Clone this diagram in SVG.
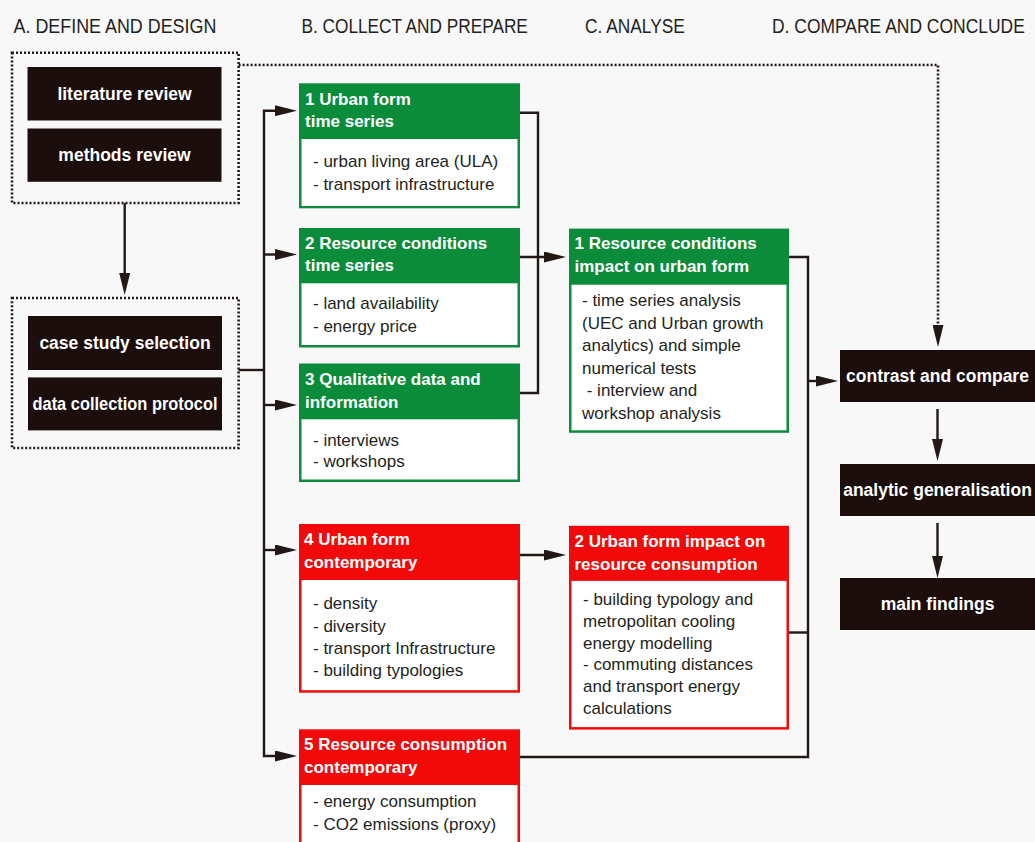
<svg xmlns="http://www.w3.org/2000/svg" width="1035" height="842" viewBox="0 0 1035 842">
<defs>
<marker id="ah" markerUnits="userSpaceOnUse" viewBox="0 0 22 11" markerWidth="22" markerHeight="11" refX="13" refY="5.5" orient="auto">
<path d="M0,0 L22,5.5 L0,11 z" fill="#231815"/>
</marker>
</defs>
<style>
.hd{font-family:"Liberation Sans",Arial,sans-serif;font-size:21px;fill:#231f20}
.bk{fill:#1c0e0c}
.bt{font-family:"Liberation Sans",Arial,sans-serif;font-size:17.5px;font-weight:bold;fill:#fff;text-anchor:middle}
.ht{font-family:"Liberation Sans",Arial,sans-serif;font-size:17px;font-weight:bold;fill:#fff}
.tx{font-family:"Liberation Sans",Arial,sans-serif;font-size:17px;fill:#231f20}
.g{fill:#0a8c3a}
.r{fill:#f20a0a}
.w{fill:#fff}
.ln{fill:none;stroke:#231815;stroke-width:2.4}
.dt{fill:none;stroke:#231815;stroke-width:2.6;stroke-dasharray:2 2}
</style>
<rect width="1035" height="842" fill="#f8f8f8"/>

<g id="headers">
<text class="hd" transform="translate(13.5 32.5) scale(0.853 1)">A. DEFINE AND DESIGN</text>
<text class="hd" transform="translate(301.5 32.5) scale(0.821 1)">B. COLLECT AND PREPARE</text>
<text class="hd" transform="translate(585 32.5) scale(0.825 1)">C. ANALYSE</text>
<text class="hd" transform="translate(772 32.5) scale(0.832 1)">D. COMPARE AND CONCLUDE</text>
</g>

<g id="define-group">
<rect class="dt" x="12" y="52.7" width="226.6" height="150.3"/>
<g id="literature-review">
<rect class="bk" x="27.5" y="67" width="194" height="53.5"/>
<text class="bt" x="124.5" y="100">literature review</text>
</g>
<g id="methods-review">
<rect class="bk" x="27.5" y="128.5" width="194" height="53.3"/>
<text class="bt" x="124.5" y="161">methods review</text>
</g>
</g>

<g id="design-group">
<rect class="dt" x="12" y="298" width="226.6" height="150"/>
<g id="case-study-selection">
<rect class="bk" x="28" y="316" width="194" height="54"/>
<text class="bt" x="125" y="349">case study selection</text>
</g>
<g id="data-collection-protocol">
<rect class="bk" x="28" y="377.4" width="194" height="53"/>
<text class="bt" x="125" y="410" textLength="185" lengthAdjust="spacingAndGlyphs">data collection protocol</text>
</g>
</g>

<g id="b1">
<rect class="g" x="299" y="83.3" width="221" height="125"/>
<rect class="w" x="301.5" y="139" width="216" height="67"/>
<text class="ht" x="305" y="105">1 Urban form</text>
<text class="ht" x="305" y="127">time series</text>
<text class="tx" x="313" y="167.3">- urban living area (ULA)</text>
<text class="tx" x="313" y="190">- transport infrastructure</text>
</g>

<g id="b2">
<rect class="g" x="299" y="228" width="221" height="119.5"/>
<rect class="w" x="301.5" y="283.3" width="216" height="61.7"/>
<text class="ht" x="305" y="249">2 Resource conditions</text>
<text class="ht" x="305" y="271">time series</text>
<text class="tx" x="313" y="309.3">- land availability</text>
<text class="tx" x="313" y="331.7">- energy price</text>
</g>

<g id="b3">
<rect class="g" x="299" y="363.5" width="221" height="118.5"/>
<rect class="w" x="301.5" y="419.3" width="216" height="60.2"/>
<text class="ht" x="305" y="385">3 Qualitative data and</text>
<text class="ht" x="305" y="407.7">information</text>
<text class="tx" x="313" y="445.7">- interviews</text>
<text class="tx" x="313" y="467.3">- workshops</text>
</g>

<g id="b4">
<rect class="r" x="299" y="524" width="221" height="168.7"/>
<rect class="w" x="301.5" y="580" width="216" height="110.2"/>
<text class="ht" x="304" y="545">4 Urban form</text>
<text class="ht" x="304" y="567.7">contemporary</text>
<text class="tx" x="313" y="609.3">- density</text>
<text class="tx" x="313" y="631.7">- diversity</text>
<text class="tx" x="313" y="654">- transport Infrastructure</text>
<text class="tx" x="313" y="676">- building typologies</text>
</g>

<g id="b5">
<rect class="r" x="299" y="729.3" width="221" height="130"/>
<rect class="w" x="301.5" y="785" width="216" height="70"/>
<text class="ht" x="304" y="750">5 Resource consumption</text>
<text class="ht" x="304" y="772.7">contemporary</text>
<text class="tx" x="313" y="807.3">- energy consumption</text>
<text class="tx" x="313" y="830">- CO2 emissions (proxy)</text>
</g>

<g id="c1">
<rect class="g" x="569" y="228.6" width="220" height="204.2"/>
<rect class="w" x="571.5" y="284.7" width="215" height="145.6"/>
<text class="ht" x="574.5" y="249.3">1 Resource conditions</text>
<text class="ht" x="574.5" y="271.7">impact on urban form</text>
<text class="tx" x="582" y="306">- time series analysis</text>
<text class="tx" x="582" y="328.5">(UEC and Urban growth</text>
<text class="tx" x="582" y="351">analytics) and simple</text>
<text class="tx" x="582" y="373.5">numerical tests</text>
<text class="tx" x="582" y="396" xml:space="preserve"> - interview and</text>
<text class="tx" x="582" y="418.5">workshop analysis</text>
</g>

<g id="c2">
<rect class="r" x="569" y="525.8" width="220" height="203.8"/>
<rect class="w" x="571.5" y="580.9" width="215" height="146.2"/>
<text class="ht" x="574.5" y="547">2 Urban form impact on</text>
<text class="ht" x="574.5" y="569.5">resource consumption</text>
<text class="tx" x="583" y="605">- building typology and</text>
<text class="tx" x="583" y="626.8">metropolitan cooling</text>
<text class="tx" x="583" y="648.6">energy modelling</text>
<text class="tx" x="583" y="670.4">- commuting distances</text>
<text class="tx" x="583" y="692.2">and transport energy</text>
<text class="tx" x="583" y="714">calculations</text>
</g>

<g id="contrast-and-compare">
<rect class="bk" x="840" y="350" width="195" height="52"/>
<text class="bt" x="937.5" y="382">contrast and compare</text>
</g>
<g id="analytic-generalisation">
<rect class="bk" x="840" y="464" width="195" height="52"/>
<text class="bt" x="937.5" y="496">analytic generalisation</text>
</g>
<g id="main-findings">
<rect class="bk" x="840" y="578" width="195" height="52"/>
<text class="bt" x="937.5" y="610">main findings</text>
</g>

<g id="connectors">
<path class="ln" d="M124.7,203 V286" marker-end="url(#ah)"/>
<path class="dt" d="M238.6,65 H938 V338" marker-end="url(#ah)"/>
<path class="ln" d="M238.6,370 H264"/>
<path class="ln" d="M264,370 V110.7 H288" marker-end="url(#ah)"/>
<path class="ln" d="M264,370 V756 H288" marker-end="url(#ah)"/>
<path class="ln" d="M264,254.5 H288" marker-end="url(#ah)"/>
<path class="ln" d="M264,405 H288" marker-end="url(#ah)"/>
<path class="ln" d="M264,550 H288" marker-end="url(#ah)"/>
<path class="ln" d="M520,112.7 H538 V393 H520"/>
<path class="ln" d="M520,257 H557" marker-end="url(#ah)"/>
<path class="ln" d="M520,555 H557" marker-end="url(#ah)"/>
<path class="ln" d="M520,757 H808 V257 H789"/>
<path class="ln" d="M789,632.5 H808"/>
<path class="ln" d="M808,381 H829" marker-end="url(#ah)"/>
<path class="ln" d="M937.5,409 V452" marker-end="url(#ah)"/>
<path class="ln" d="M937.5,523 V569" marker-end="url(#ah)"/>
</g>
</svg>
